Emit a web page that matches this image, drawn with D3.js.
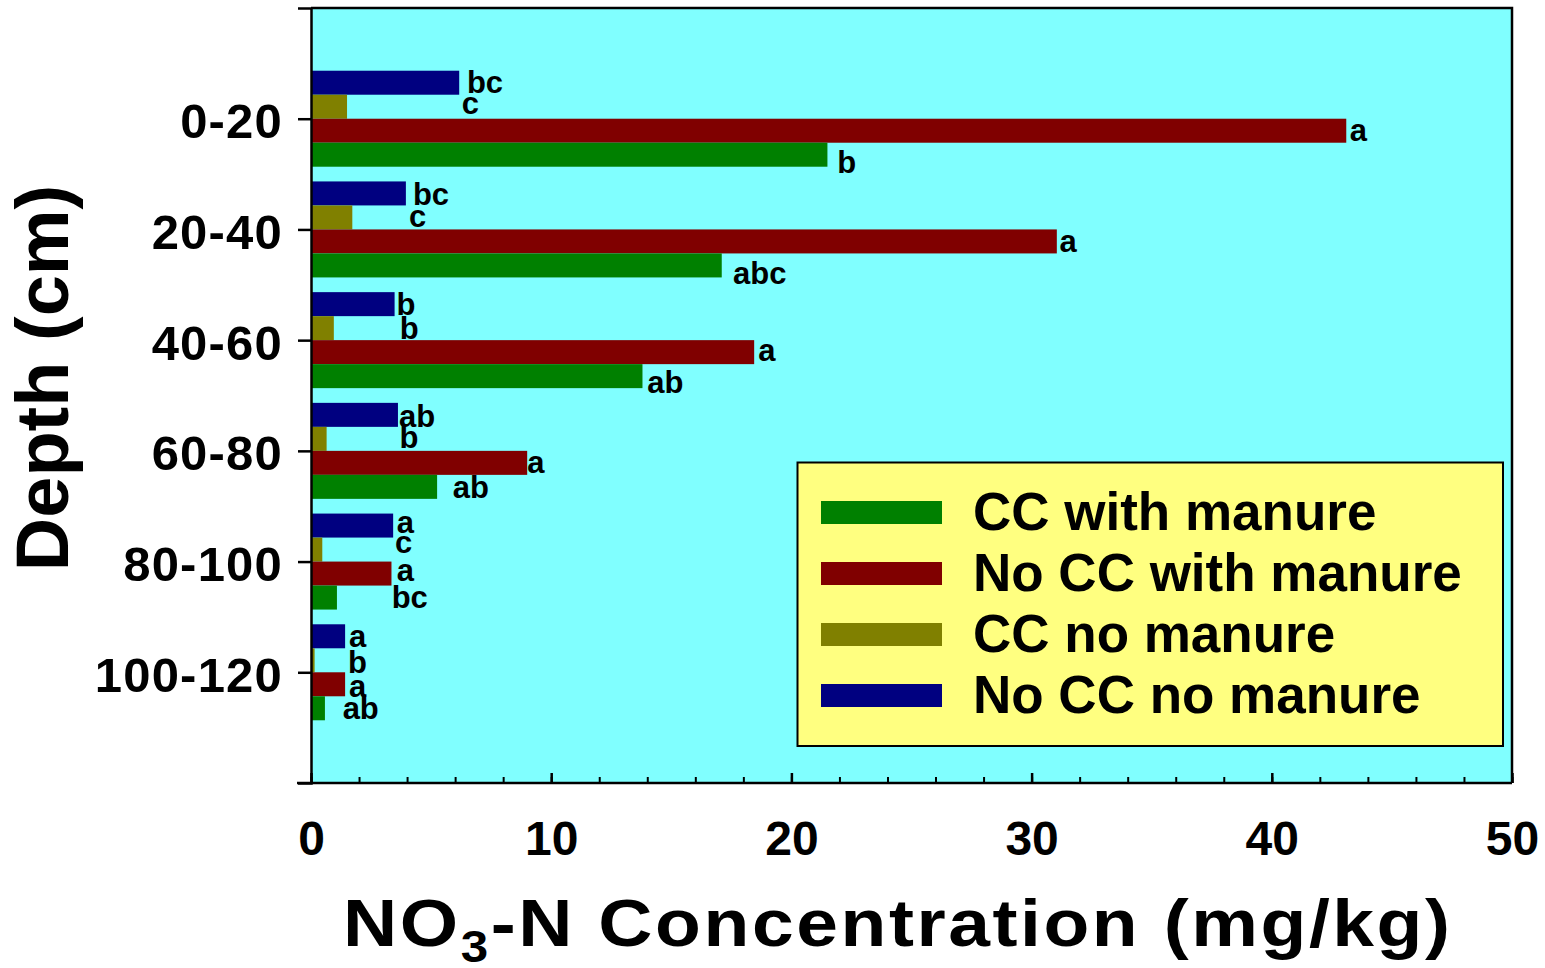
<!DOCTYPE html>
<html>
<head>
<meta charset="utf-8">
<script src="https://cdn.jsdelivr.net/npm/d3@7"></script>
<style>
  html, body { margin: 0; padding: 0; background: #ffffff; }
  svg { display: block; }
  text { font-family: "Liberation Sans", Arial, sans-serif; font-weight: bold; fill: #000; }
</style>
</head>
<body>
<svg id="chart" width="1545" height="968"></svg>
<script>
// Soil depth intervals (cm)
const depths = ["0-20", "20-40", "40-60", "60-80", "80-100", "100-120"];

// NO3-N concentration (mg/kg) per treatment
const ccWithManure     = [21.5, 17.1, 13.8, 5.25, 1.08, 0.58];
const noCcWithManure   = [43.1, 31.05, 18.45, 9.0, 3.35, 1.42];
const ccNoManure       = [1.5, 1.72, 0.95, 0.65, 0.47, 0.15];
const noCcNoManure     = [6.17, 3.95, 3.48, 3.62, 3.42, 1.42];

// Mean-separation letters per treatment
const ccWithManureLetters   = ["b", "abc", "ab", "ab", "bc", "ab"];
const noCcWithManureLetters = ["a", "a", "a", "a", "a", "a"];
const ccNoManureLetters     = ["c", "c", "b", "b", "c", "b"];
const noCcNoManureLetters   = ["bc", "bc", "b", "ab", "a", "a"];

// x-axis ticks
const majorTicks = [0, 10, 20, 30, 40, 50];
const minorTicks = d3.range(0, 51, 2);

// Series, top-to-bottom within each depth group
const series = [
  { name: "No CC no manure",   values: noCcNoManure,   letters: noCcNoManureLetters,   color: "#000080" },
  { name: "CC no manure",      values: ccNoManure,     letters: ccNoManureLetters,     color: "#808000" },
  { name: "No CC with manure", values: noCcWithManure, letters: noCcWithManureLetters, color: "#800000" },
  { name: "CC with manure",    values: ccWithManure,   letters: ccWithManureLetters,   color: "#008000" }
];
const legendOrder = ["CC with manure", "No CC with manure", "CC no manure", "No CC no manure"];

// Letter placement tweaks [dx from bar end, dy from bar bottom], in px
const letterNudge = {
  "No CC no manure":   [[7.7, -1.4], [7, 0], [2, -1], [1, 0], [3.7, -4.5], [4, -1.5]],
  "CC no manure":      [[114.7, -4.4], [56.7, -2.7], [66, -1], [73, -2.5], [72.7, -8.5], [33.4, 1]],
  "No CC with manure": [[3.6, -2], [2.8, -1.7], [4, -3], [0, -1.8], [5.3, -4.5], [4, 0.5]],
  "CC with manure":    [[9.7, 6], [11.3, 6.6], [4.8, 4.6], [15.7, -0.5], [54.7, -1.5], [17.7, -1]]
};

const svg = d3.select("#chart");
const plot = { left: 311, right: 1512, top: 8, bottom: 783 };

const x = d3.scaleLinear().domain([0, 50]).range([plot.left, plot.right]);
const y = d3.scalePoint().domain(depths).range([plot.top, plot.bottom]).padding(1);
const barH = 24;
const sub = d3.scaleBand().domain(series.map(s => s.name)).range([-2 * barH, 2 * barH]);

// Plot background
svg.append("rect")
  .attr("x", plot.left).attr("y", plot.top)
  .attr("width", plot.right - plot.left).attr("height", plot.bottom - plot.top)
  .attr("fill", "#80ffff");

// Bars
series.forEach(s => {
  svg.append("g").selectAll("rect")
    .data(s.values)
    .join("rect")
    .attr("x", x(0))
    .attr("y", (d, i) => y(depths[i]) + sub(s.name))
    .attr("width", d => x(d) - x(0))
    .attr("height", sub.bandwidth())
    .attr("fill", s.color);
});

// Letters
series.forEach(s => {
  svg.append("g").selectAll("text")
    .data(s.letters)
    .join("text")
    .attr("x", (d, i) => x(s.values[i]) + letterNudge[s.name][i][0])
    .attr("y", (d, i) => y(depths[i]) + sub(s.name) + sub.bandwidth() + letterNudge[s.name][i][1])
    .attr("font-size", 31)
    .text(d => d);
});

// Frame: top and right borders
svg.append("path")
  .attr("d", `M${plot.left},${plot.top}H${plot.right}V${plot.bottom}`)
  .attr("fill", "none").attr("stroke", "#000").attr("stroke-width", 2.5);

// Left axis
const yAxis = svg.append("g")
  .attr("transform", `translate(${plot.left},0)`)
  .call(d3.axisLeft(y).tickSize(13).tickSizeOuter(13).tickPadding(15));
yAxis.selectAll("path, line").attr("stroke", "#000").attr("stroke-width", 2.5);
yAxis.selectAll("text")
  .attr("font-size", 49).attr("dy", "0.39em")
  .attr("letter-spacing", 1.2)
  .style("font-family", "'Liberation Sans', Arial, sans-serif").style("font-weight", "bold");

// Bottom axis: minor ticks
svg.append("g")
  .attr("transform", `translate(0,${plot.bottom})`)
  .call(d3.axisBottom(x).tickValues(minorTicks).tickSize(-6).tickSizeOuter(0).tickFormat(""))
  .call(g => g.select(".domain").remove())
  .selectAll("line").attr("stroke", "#000").attr("stroke-width", 2);

// Bottom axis: major ticks and labels
const xAxis = svg.append("g")
  .attr("transform", `translate(0,${plot.bottom})`)
  .call(d3.axisBottom(x).tickValues(majorTicks).tickSize(-10).tickSizeOuter(0).tickPadding(38).tickFormat(d3.format("d")));
xAxis.select(".domain").attr("d", `M${plot.left - 14},0H${plot.right}`);
xAxis.selectAll("path, line").attr("stroke", "#000").attr("stroke-width", 2.5);
xAxis.selectAll("text")
  .attr("font-size", 48)
  .style("font-family", "'Liberation Sans', Arial, sans-serif").style("font-weight", "bold");

// Axis titles
svg.append("text")
  .attr("transform", "translate(68,378) rotate(-90)")
  .attr("text-anchor", "middle")
  .attr("font-size", 74)
  .text("Depth (cm)");

// x title: slightly widened glyphs, spread across its span
const titleStretch = 1.12;
const titleSpan = 1107;
const xTitle = svg.append("text")
  .attr("transform", `translate(343,946) scale(${titleStretch},1)`)
  .attr("x", 0).attr("y", 0)
  .attr("font-size", 67);
xTitle.append("tspan").text("NO");
xTitle.append("tspan").attr("font-size", 44).attr("dy", 16).text("3");
xTitle.append("tspan").attr("dy", -16).text("-N Concentration (mg/kg)");
const natural = xTitle.node().getComputedTextLength();
const nChars = "NO3-N Concentration (mg/kg)".length;
xTitle.attr("letter-spacing", Math.max(0, (titleSpan / titleStretch - natural) / (nChars - 1)));

// Legend
const legend = svg.append("g");
legend.append("rect")
  .attr("x", 797.5).attr("y", 462.5).attr("width", 705.5).attr("height", 283.5)
  .attr("fill", "#ffff80").attr("stroke", "#000").attr("stroke-width", 2);
legendOrder.forEach((name, i) => {
  const s = series.find(t => t.name === name);
  legend.append("rect")
    .attr("x", 821).attr("y", 501 + i * 61)
    .attr("width", 121).attr("height", 23)
    .attr("fill", s.color);
  legend.append("text")
    .attr("x", 973).attr("y", 530 + i * 61)
    .attr("font-size", 53)
    .text(name);
});
</script>
</body>
</html>
